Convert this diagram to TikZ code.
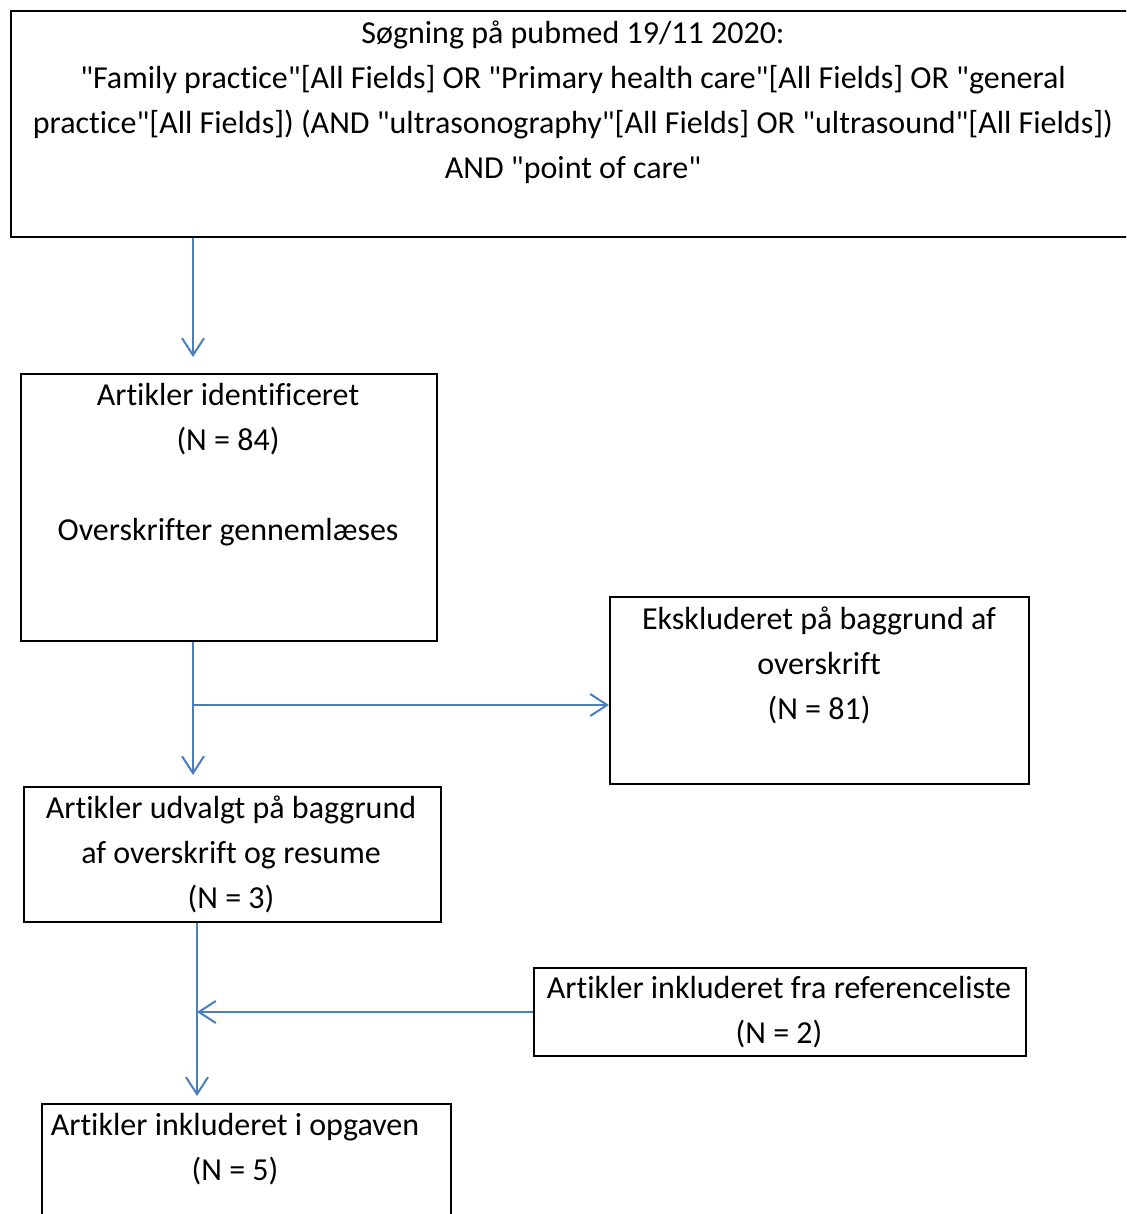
\documentclass[tikz,border=0pt]{standalone}
\usepackage{fontspec}
\setmainfont{Carlito}[Ligatures={ResetAll,NoCommon}]
\usetikzlibrary{arrows.meta}
\definecolor{pilblaa}{RGB}{74,126,189}
\newcommand{\gf}{\textquotedbl}

\begin{document}
\begin{tikzpicture}[x=1pt,y=-1pt,
    boks/.style={draw=black, line width=2pt, inner sep=0pt, anchor=north west},
    tekst/.style={anchor=north, inner sep=0pt, align=center, font=\fontsize{32}{45}\selectfont},
    pil/.style={draw=pilblaa, line width=2pt, -{Straight Barb[length=17pt,width=22pt,line width=2pt]}}]
  \useasboundingbox (0,0) rectangle (1126,1214);
  \clip (0,0) rectangle (1126,1214);
  % kasser
  \node[boks, minimum width=1126pt, minimum height=226pt] (soeg) at (10,10) {};
  \node[boks, minimum width=416pt, minimum height=267pt] (ident) at (20,373) {};
  \node[boks, minimum width=419pt, minimum height=187pt] (ekskl) at (609,596) {};
  \node[boks, minimum width=417pt, minimum height=135pt] (udvalgt) at (23,786) {};
  \node[boks, minimum width=492pt, minimum height=88pt] (reflist) at (533,967) {};
  \node[boks, minimum width=409pt, minimum height=160pt] (inkl) at (41,1103) {};
  % tekster
  \node[tekst] (tsoeg) at (573,11.5) {\strut Søgning på pubmed 19/11 2020:\\
    \gf Family practice\gf[All Fields] OR \gf Primary health care\gf[All Fields] OR \gf general\\
    practice\gf[All Fields]) (AND \gf ultrasonography\gf[All Fields] OR \gf ultrasound\gf[All Fields])\\
    AND \gf point of care\gf};
  \node[tekst] (tident) at (228,373.5) {\strut Artikler identificeret\\(N = 84)\\[45pt]Overskrifter gennemlæses};
  \node[tekst] (tekskl) at (819,597.5) {\strut Ekskluderet på baggrund af\\overskrift\\(N = 81)};
  \node[tekst] (tudvalgt) at (231,786.5) {\strut Artikler udvalgt på baggrund\\af overskrift og resume\\(N = 3)};
  \node[tekst] (treflist) at (779,966.5) {\strut Artikler inkluderet fra referenceliste\\(N = 2)};
  \node[tekst] (tinkl) at (235,1103.5) {\strut Artikler inkluderet i opgaven\\(N = 5)};
  % pile
  \coordinate (spor1) at (193,0);
  \coordinate (spor2) at (197,0);
  \coordinate (gren) at (193,705);
  \draw[pil, shorten >=16pt] (soeg.south -| spor1) -- (ident.north -| spor1);
  \draw[pil, shorten >=11pt] (ident.south -| spor1) -- (udvalgt.north -| spor1);
  \draw[pil] (gren) -- (ekskl.west |- gren);
  \draw[pil, shorten >=7pt] (udvalgt.south -| spor2) -- (inkl.north -| spor2);
  \draw[pil] (reflist.west) -- (reflist.west -| spor2);
\end{tikzpicture}
\end{document}
